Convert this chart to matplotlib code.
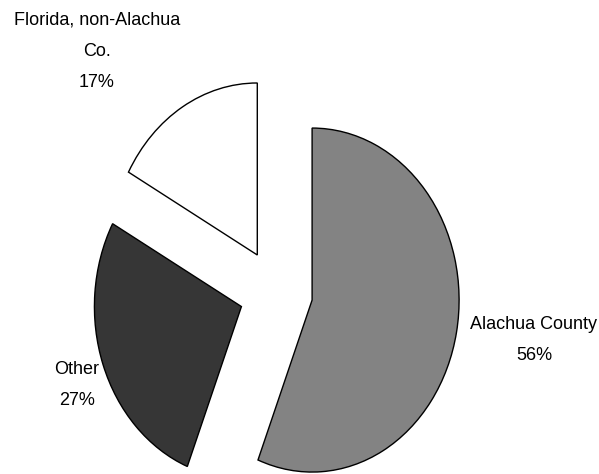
import matplotlib
matplotlib.use("Agg")
import matplotlib.pyplot as plt

labels = ["Alachua County", "Other", "Florida, non-Alachua\nCo."]
shares = [56, 27, 17]
colors = ["#838383", "#363636", "#ffffff"]
explode = [0.25, 0.25, 0.25]

# label anchor points, in pixels from the top-left of the picture
label_pos = [(534, 340), (77, 385), (97, 51)]

W, H = 599, 474
fig = plt.figure(figsize=(W / 100, H / 100), dpi=100)
ax = fig.add_axes([0, 0, 1, 1])

ax.pie(shares, colors=colors, explode=explode, startangle=90, counterclock=False,
       wedgeprops=dict(edgecolor="black", linewidth=1.0))

# the pie is squeezed sideways: one unit is 147 px wide and 172 px tall
cx, cy, rx, ry = 276, 292, 147, 172
ax.set_aspect("auto")
ax.set_xlim(-cx / rx, (W - cx) / rx)
ax.set_ylim(-(H - cy) / ry, cy / ry)
ax.axis("off")

for lab, pct, (px, py) in zip(labels, shares, label_pos):
    fig.text(px / W, 1 - py / H, f"{lab}\n{pct}%", ha="center", va="center",
             fontsize=13, family=["Liberation Sans", "DejaVu Sans"], linespacing=2.08)

fig.savefig("out.png", dpi=100)
